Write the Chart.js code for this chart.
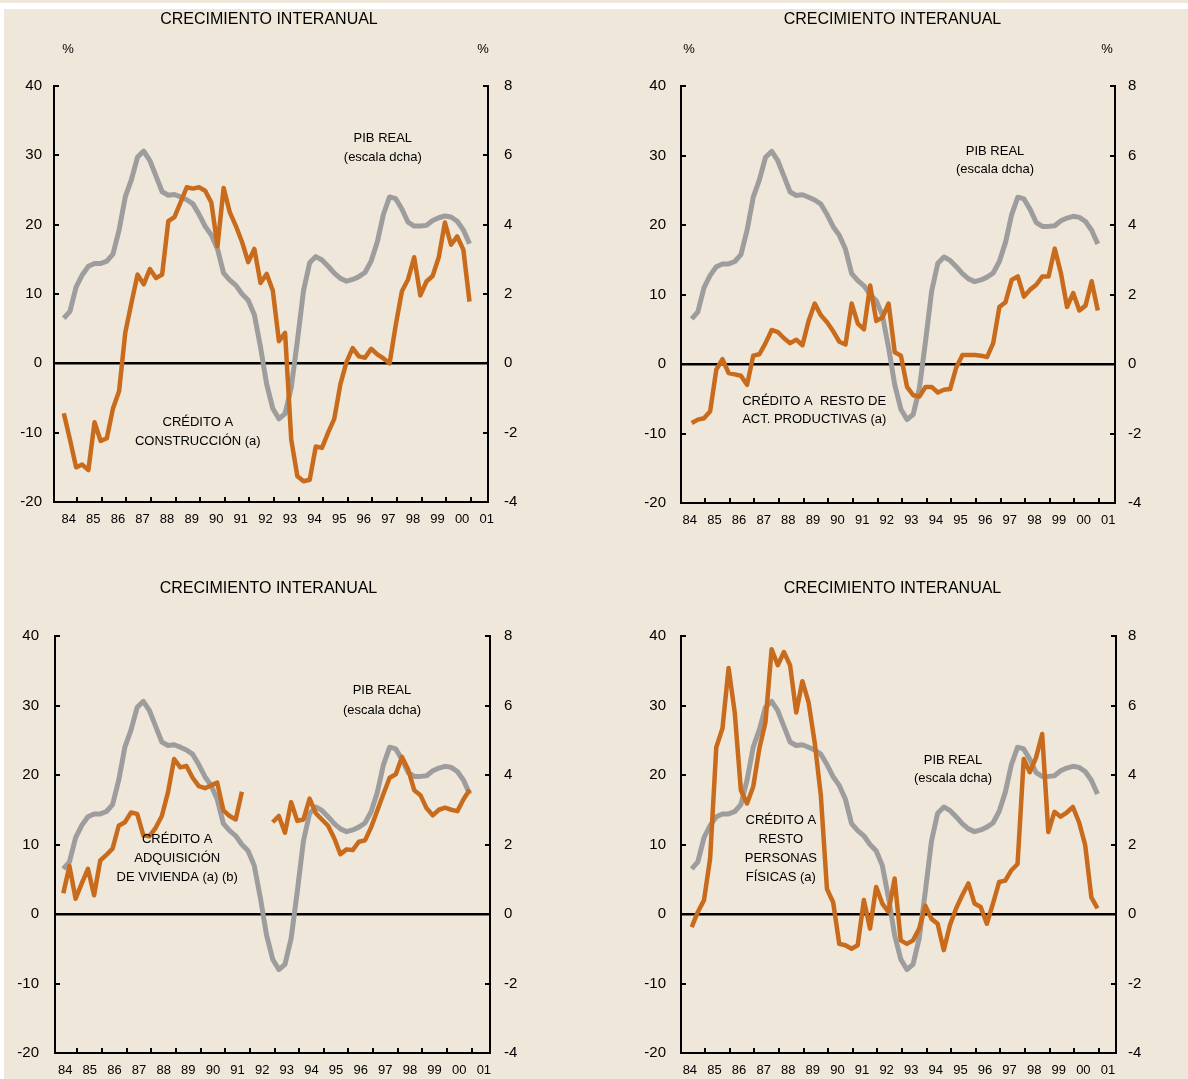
<!DOCTYPE html>
<html>
<head>
<meta charset="utf-8">
<script src="https://cdn.jsdelivr.net/npm/chart.js@4.4.0/dist/chart.umd.min.js"></script>
<style>
  html, body { margin: 0; padding: 0; }
  body {
    width: 1188px; height: 1079px; position: relative; overflow: hidden;
    background: #EFE7D9;
    font-family: 'Liberation Sans', Arial, sans-serif;
  }
  .strip { position: absolute; background: #fff; }
  canvas { position: absolute; }
</style>
</head>
<body>
<div class="strip" style="left:0;top:3px;width:1188px;height:6px"></div>
<div class="strip" style="left:0;top:9px;width:4px;height:1070px"></div>
<canvas id="c1" width="594" height="540" style="left:0;top:0"></canvas>
<canvas id="c2" width="594" height="540" style="left:594px;top:0"></canvas>
<canvas id="c3" width="594" height="539" style="left:0;top:540px"></canvas>
<canvas id="c4" width="594" height="539" style="left:594px;top:540px"></canvas>
<script>
// quarterly observations, 1984 to 2000 (67 quarters)
const yearLabels = ['84', '85', '86', '87', '88', '89', '90', '91', '92', '93', '94', '95', '96', '97', '98', '99', '00', '01'];

// PIB real, % (escala dcha)
const pibReal = [1.3, 1.5, 2.2, 2.55, 2.8, 2.88, 2.88, 2.95, 3.15, 3.85, 4.8, 5.3, 5.95, 6.12, 5.85, 5.4, 4.95,
  4.85, 4.87, 4.8, 4.72, 4.6, 4.3, 3.95, 3.7, 3.3, 2.6, 2.4, 2.25, 2.0, 1.82, 1.4, 0.47, -0.6, -1.3,
  -1.6, -1.45, -0.7, 0.65, 2.1, 2.9, 3.08, 2.98, 2.8, 2.6, 2.45, 2.37, 2.42, 2.5, 2.62, 2.95, 3.5,
  4.3, 4.8, 4.75, 4.45, 4.07, 3.96, 3.96, 3.98, 4.12, 4.2, 4.25, 4.22, 4.1, 3.85, 3.45];

// credito, % (escala izda)
const creditoConstruccion = [-7.2, -11.0, -15.0, -14.6, -15.4, -8.5, -11.2, -10.8, -6.5, -4.0, 4.4, 8.7,
  12.8, 11.4, 13.6, 12.3, 12.8, 20.5, 21.1, 23.2, 25.4, 25.2, 25.4, 24.9, 23.2, 16.9, 25.3, 21.8, 19.8,
  17.5, 14.6, 16.5, 11.6, 12.9, 10.5, 3.2, 4.4, -11.0, -16.3, -17.0, -16.8, -12.0, -12.2, -10.0, -8.0,
  -3.0, 0.2, 2.2, 1.0, 0.8, 2.1, 1.3, 0.7, 0.0, 5.5, 10.4, 12.1, 15.3, 9.8, 11.8, 12.6, 15.3, 20.3,
  17.1, 18.3, 16.4, 8.9];

const creditoRestoActividades = [-8.5, -8.0, -7.8, -6.8, -0.8, 0.7, -1.3, -1.5, -1.7, -3.0, 1.2, 1.4, 3.0,
  4.9, 4.6, 3.7, 3.0, 3.5, 2.7, 6.2, 8.7, 7.0, 6.0, 4.7, 3.2, 2.8, 8.7, 5.8, 5.0, 11.3, 6.2, 6.7, 8.7,
  1.7, 1.2, -3.3, -4.5, -4.7, -3.3, -3.3, -4.1, -3.7, -3.6, -0.5, 1.3, 1.3, 1.3, 1.2, 1.0, 3.0, 8.2,
  8.9, 12.1, 12.6, 9.7, 10.7, 11.4, 12.6, 12.6, 16.6, 13.1, 8.2, 10.2, 7.7, 8.4, 11.9, 7.7];

const creditoVivienda = [3.0, 6.9, 2.2, 4.4, 6.5, 2.7, 7.7, 8.5, 9.4, 12.7, 13.2, 14.6, 14.4, 11.3, 11.2,
  12.4, 14.1, 17.5, 22.3, 21.1, 21.3, 19.6, 18.4, 18.1, 18.5, 18.9, 14.9, 14.1, 13.6, 17.6,
  null, null, null, null,
  13.2, 14.1, 11.7, 16.1, 13.4, 13.6, 16.6, 14.5, 13.6, 12.7, 10.9, 8.6, 9.3, 9.2, 10.4, 10.6, 12.5,
  14.9, 17.3, 19.6, 20.1, 22.6, 20.8, 17.8, 17.1, 15.2, 14.2, 15.0, 15.3, 15.0, 14.8, 16.5, 17.9];

const creditoPersonasFisicas = [-1.9, 0.3, 2.0, 8.0, 24.0, 26.7, 35.4, 29.0, 17.8, 15.9, 18.3, 23.8, 27.6,
  38.1, 35.8, 37.7, 35.8, 29.0, 33.5, 30.5, 24.7, 17.1, 3.6, 1.7, -4.3, -4.5, -5.0, -4.5, 2.0, -2.1, 3.9,
  1.5, 0.3, 5.1, -3.8, -4.3, -3.8, -2.1, 1.2, -0.7, -1.4, -5.2, -1.6, 0.8, 2.7, 4.4, 1.5, 1.0, -1.4,
  1.5, 4.6, 4.8, 6.3, 7.2, 22.3, 20.4, 22.5, 25.9, 11.8, 14.7, 14.0, 14.6, 15.4, 13.2, 9.9, 2.4, 0.8];

const quarters = pibReal.map((_, i) => i);

const ORANGE = '#C96B1C';
const GREY = '#9D9D9D';
const FONT = "'Liberation Sans', Arial, sans-serif";

// draws inward tick marks, titles and the in-plot notes
const panelDecor = {
    id: 'panelDecor',
    afterDraw(chart, args, opts) {
        const { ctx, chartArea: a, scales } = chart;
        ctx.save();
        ctx.strokeStyle = '#000';
        ctx.lineWidth = 2;
        ctx.beginPath();
        scales.y.ticks.forEach(t => {
            const y = Math.round(scales.y.getPixelForValue(t.value));
            ctx.moveTo(a.left, y); ctx.lineTo(a.left + 5, y);
        });
        scales.y2.ticks.forEach(t => {
            const y = Math.round(scales.y2.getPixelForValue(t.value));
            ctx.moveTo(a.right, y); ctx.lineTo(a.right - 5, y);
        });
        opts.yearTicks.forEach(v => {
            const x = Math.round(scales.x.getPixelForValue(v));
            ctx.moveTo(x, a.bottom); ctx.lineTo(x, a.bottom - 5);
        });
        ctx.stroke();

        ctx.fillStyle = '#000';
        ctx.textBaseline = 'middle';
        ctx.textAlign = 'center';
        ctx.font = '16px ' + FONT;
        ctx.fillText('CRECIMIENTO INTERANUAL', opts.title[0], opts.title[1]);
        ctx.font = '13px ' + FONT;
        opts.pct.forEach(p => ctx.fillText('%', p[0], p[1]));

        opts.notes.forEach(n => {
            const x = scales.x.getPixelForValue(n.k);
            const y = scales.y.getPixelForValue(n.v);
            ctx.textAlign = n.align || 'center';
            n.lines.forEach((line, i) => ctx.fillText(line, x, y + i * n.lh));
        });
        ctx.restore();
    }
};

function makePanel(p, credito) {
    const q = (p.last - p.first) / 66;
    const xMin = (p.left - p.first) / q;
    const xMax = 66 + (p.right - p.last) / q;
    const labelPos = yearLabels.map((_, j) => p.labelStart + 4 * j);
    const yearTicks = yearLabels.slice(1).map((_, j) => p.tickStart + 4 * j);

    const ctx = document.getElementById(p.canvas).getContext('2d');
    return new Chart(ctx, {
        type: 'line',
        data: {
            labels: quarters,
            datasets: [
                {
                    data: credito,
                    yAxisID: 'y',
                    borderColor: ORANGE,
                    borderWidth: 4.5,
                    pointRadius: 0,
                    spanGaps: false,
                    borderJoinStyle: 'round'
                },
                {
                    data: pibReal,
                    yAxisID: 'y2',
                    borderColor: GREY,
                    borderWidth: 5,
                    pointRadius: 0,
                    borderJoinStyle: 'round'
                }
            ]
        },
        options: {
            responsive: false,
            animation: false,
            layout: { padding: { top: p.top, left: 0, right: 0, bottom: 0 } },
            scales: {
                x: {
                    type: 'linear',
                    position: 'bottom',
                    min: xMin,
                    max: xMax,
                    afterBuildTicks: s => { s.ticks = labelPos.map(v => ({ value: v })); },
                    afterFit: s => { s.height = p.height - p.bottom; },
                    ticks: {
                        autoSkip: false,
                        maxRotation: 0,
                        padding: 10,
                        color: '#000',
                        font: { family: FONT, size: 13 },
                        callback: (v, i) => yearLabels[i]
                    },
                    grid: { display: false, drawTicks: false },
                    border: { display: true, color: '#000', width: 2 }
                },
                y: {
                    position: 'left',
                    min: -20,
                    max: 40,
                    afterFit: s => { s.width = p.left; },
                    ticks: {
                        stepSize: 10,
                        padding: p.padL,
                        color: '#000',
                        font: { family: FONT, size: 15 }
                    },
                    grid: {
                        drawTicks: false,
                        color: c => c.tick && c.tick.value === 0 ? '#000' : 'rgba(0,0,0,0)',
                        lineWidth: c => c.tick && c.tick.value === 0 ? 2.5 : 0
                    },
                    border: { display: true, color: '#000', width: 2 }
                },
                y2: {
                    position: 'right',
                    min: -4,
                    max: 8,
                    afterFit: s => { s.width = p.width - p.right; },
                    ticks: {
                        stepSize: 2,
                        padding: p.padR,
                        color: '#000',
                        font: { family: FONT, size: 15 }
                    },
                    grid: { display: false, drawTicks: false },
                    border: { display: true, color: '#000', width: 2 }
                }
            },
            plugins: {
                legend: { display: false },
                tooltip: { enabled: false },
                panelDecor: {
                    yearTicks: yearTicks,
                    title: p.title,
                    pct: p.pct,
                    notes: p.notes
                }
            }
        },
        plugins: [panelDecor]
    });
}

makePanel({
    canvas: 'c1', width: 594, height: 540, left: 54, right: 488, top: 86, bottom: 502,
    first: 63.8, last: 469.5, labelStart: 0.8, tickStart: 2.2, padL: 12, padR: 16,
    title: [269, 20], pct: [[68, 49], [483, 49]],
    notes: [
        { k: 51.9, v: 32.5, lh: 19, lines: ['PIB REAL', '(escala dcha)'] },
        { k: 21.8, v: -8.5, lh: 19, lines: ['CRÉDITO A', 'CONSTRUCCIÓN (a)'] }
    ]
}, creditoConstruccion);

makePanel({
    canvas: 'c2', width: 594, height: 540, left: 87, right: 521, top: 86, bottom: 503,
    first: 97.7, last: 503.8, labelStart: -0.3, tickStart: 2.2, padL: 15, padR: 13,
    title: [298.5, 20], pct: [[95, 49], [513, 49]],
    notes: [
        { k: 49.3, v: 30.6, lh: 18.5, lines: ['PIB REAL', '(escala dcha)'] },
        { k: 8.2, v: -5.4, lh: 18, align: 'left', lines: ['CRÉDITO A  RESTO DE', 'ACT. PRODUCTIVAS (a)'] }
    ]
}, creditoRestoActividades);

makePanel({
    canvas: 'c3', width: 594, height: 539, left: 55, right: 490, top: 96, bottom: 513,
    first: 63.3, last: 469.7, labelStart: 0.3, tickStart: 2.3, padL: 16, padR: 14,
    title: [268.5, 49], pct: [],
    notes: [
        { k: 51.75, v: 32.1, lh: 19.5, lines: ['PIB REAL', '(escala dcha)'] },
        { k: 18.5, v: 10.66, lh: 18.7, lines: ['CRÉDITO A', 'ADQUISICIÓN', 'DE VIVIENDA (a) (b)'] }
    ]
}, creditoVivienda);

makePanel({
    canvas: 'c4', width: 594, height: 539, left: 87, right: 522, top: 96, bottom: 513,
    first: 97.7, last: 503.5, labelStart: -0.3, tickStart: 2.2, padL: 15, padR: 12,
    title: [298.5, 49], pct: [],
    notes: [
        { k: 42.5, v: 22.1, lh: 18.5, lines: ['PIB REAL', '(escala dcha)'] },
        { k: 14.5, v: 13.5, lh: 19, lines: ['CRÉDITO A', 'RESTO', 'PERSONAS', 'FÍSICAS (a)'] }
    ]
}, creditoPersonasFisicas);
</script>
</body>
</html>
